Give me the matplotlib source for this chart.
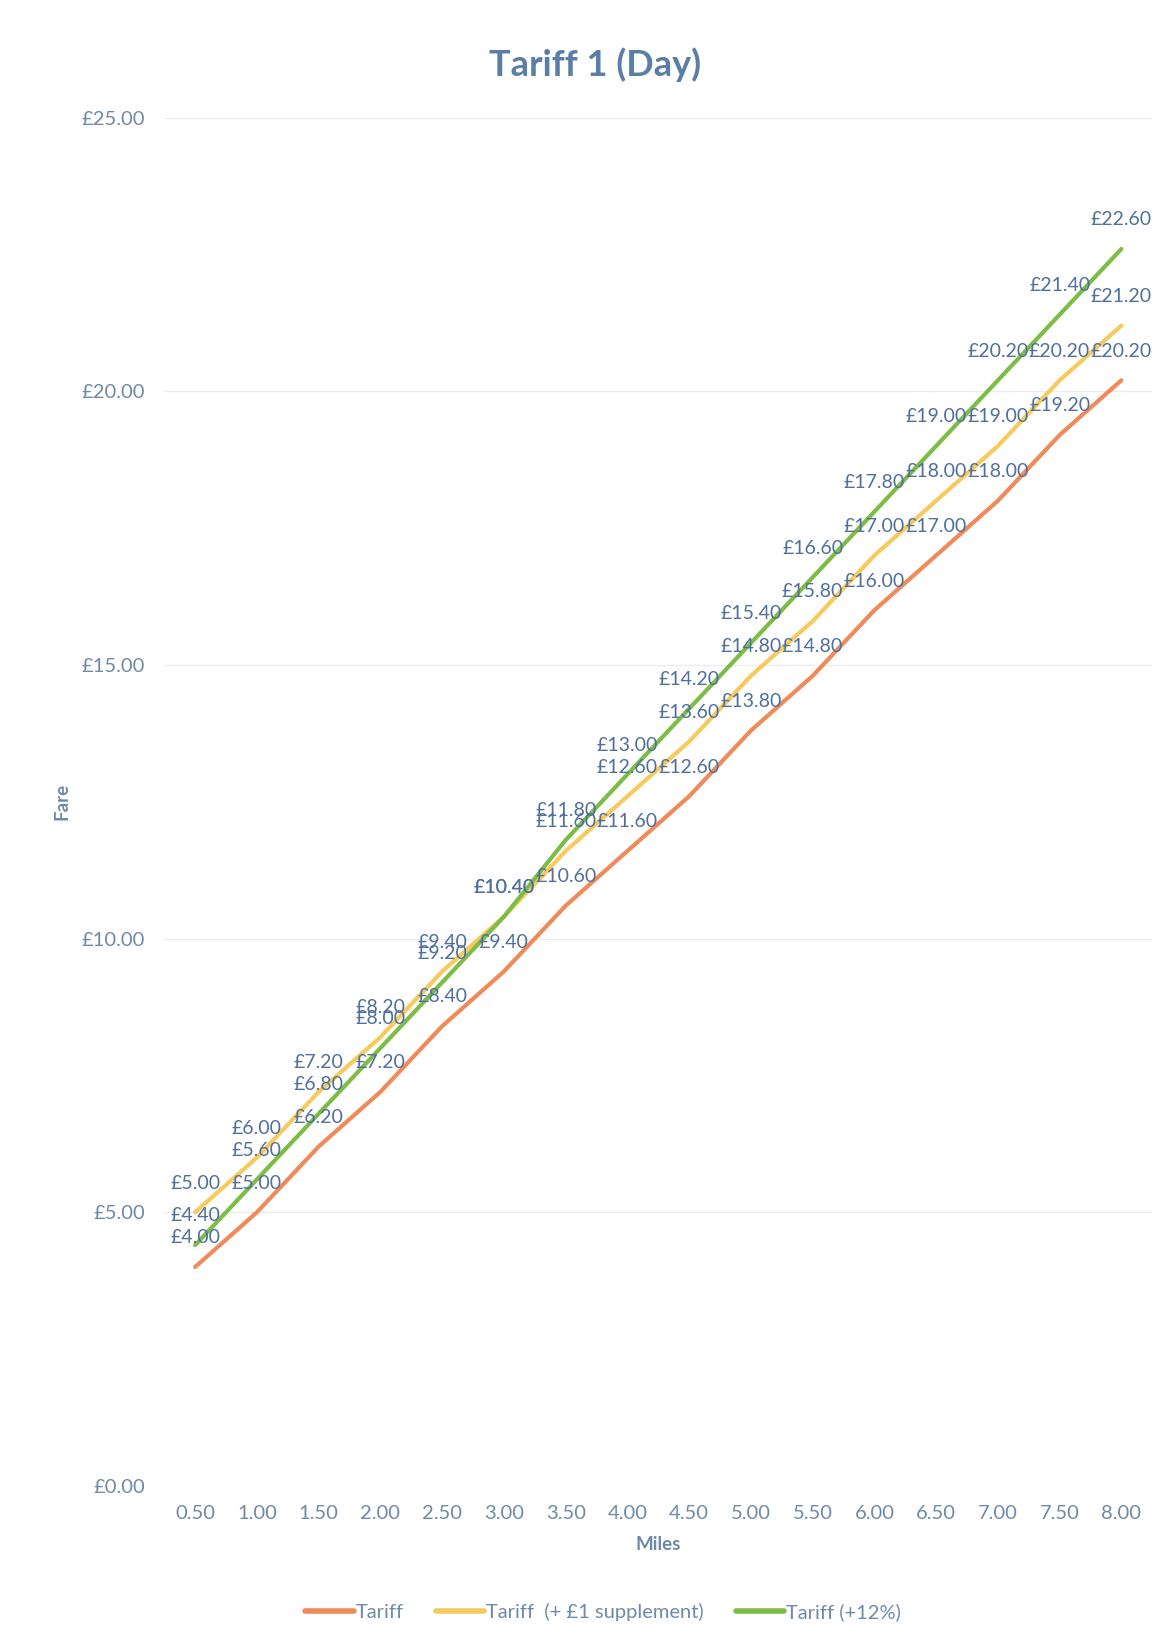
import matplotlib
matplotlib.use("Agg")
import matplotlib.pyplot as plt

plt.rcParams['font.family'] = ['Lato', 'DejaVu Sans']

# Fare data (£) by distance in miles
miles = ["0.50", "1.00", "1.50", "2.00", "2.50", "3.00", "3.50", "4.00",
         "4.50", "5.00", "5.50", "6.00", "6.50", "7.00", "7.50", "8.00"]
tariff = [4.00, 5.00, 6.20, 7.20, 8.40, 9.40, 10.60, 11.60,
          12.60, 13.80, 14.80, 16.00, 17.00, 18.00, 19.20, 20.20]
tariff_supplement = [5.00, 6.00, 7.20, 8.20, 9.40, 10.40, 11.60, 12.60,
                     13.60, 14.80, 15.80, 17.00, 18.00, 19.00, 20.20, 21.20]
tariff_12pct = [4.40, 5.60, 6.80, 8.00, 9.20, 10.40, 11.80, 13.00,
                14.20, 15.40, 16.60, 17.80, 19.00, 20.20, 21.40, 22.60]
y_ticks = [0, 5, 10, 15, 20, 25]

series = [
    ("Tariff", tariff, "#f08a5a"),
    ("Tariff  (+ £1 supplement)", tariff_supplement, "#f6ca5c"),
    ("Tariff (+12%)", tariff_12pct, "#7dbd45"),
]

label_color = "#4f6f9c"
axis_color = "#6e8aa8"

fig = plt.figure(figsize=(11.76, 16.47), dpi=100)
ax = fig.add_axes([0.1397, 0.0978, 0.8401, 0.8308])

x = list(range(len(miles)))
for name, vals, col in series:
    ax.plot(x, vals, color=col, linewidth=3.0, label=name, solid_capstyle='round')
    for xi, v in zip(x, vals):
        ax.annotate(f"£{v:.2f}", (xi, v), xytext=(0, 21), textcoords="offset points",
                    ha="center", va="center", fontsize=14, color=label_color)

ax.set_xlim(-0.5, len(miles) - 0.5)
ax.set_ylim(0, 25)
ax.set_xticks(x)
ax.set_xticklabels(miles)
ax.set_yticks(y_ticks)
ax.set_yticklabels([f"£{t:.2f}" for t in y_ticks])
ax.tick_params(axis='both', length=0, labelsize=14.5, labelcolor=axis_color)
ax.tick_params(axis='y', pad=14)
ax.tick_params(axis='x', pad=14)
for s in ax.spines.values():
    s.set_visible(False)
ax.grid(axis='y', color="#ececec", linewidth=1.0)
ax.set_axisbelow(True)

ax.set_xlabel("Miles", fontsize=13.5, fontweight='bold', color=axis_color, labelpad=10)
ax.set_ylabel("Fare", fontsize=13.5, fontweight='bold', color=axis_color, labelpad=8)

fig.text(0.506, 0.961, "Tariff 1 (Day)", ha="center", va="center",
         fontsize=26, fontweight='bold', color="#5a7ea6")

leg = fig.legend(loc="center", bbox_to_anchor=(0.513, 0.021), ncol=3, frameon=False,
                 fontsize=14.5, handlelength=2.4, handletextpad=0.1, columnspacing=1.6)
for t in leg.get_texts():
    t.set_color(axis_color)
for h in leg.get_lines():
    h.set_linewidth(4)

fig.savefig("out.png", dpi=100, facecolor="white")
